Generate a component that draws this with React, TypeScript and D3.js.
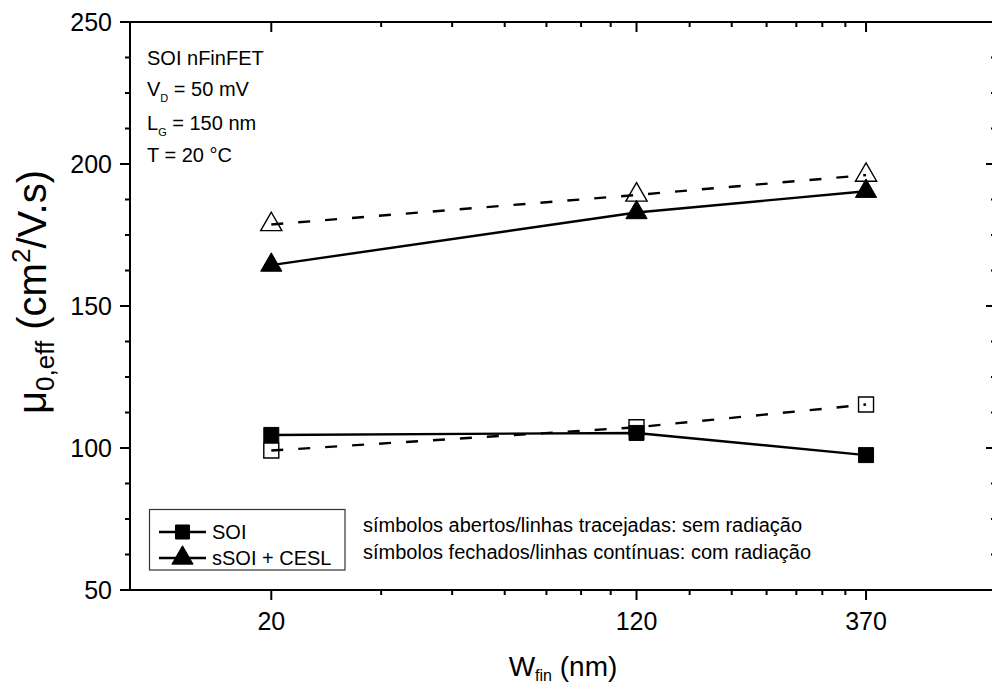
import React from "react";
import * as d3 from "d3";

// ---- data ----
const wfin = [20, 120, 370];
const soiNoRad = [99.1, 107.3, 115.3];
const soiRad = [104.6, 105.3, 97.5];
const ssoiNoRad = [178.7, 189.1, 196.1];
const ssoiRad = [164.4, 182.9, 190.4];

const xMajorTicks = [20, 120, 370];
const yMajorTicks = [50, 100, 150, 200, 250];
const xDomain = [10, 700];
const yDomain = [50, 250];

const legendLabels = ["SOI", "sSOI + CESL"];
const noteLines = [
  "símbolos abertos/linhas tracejadas: sem radiação",
  "símbolos fechados/linhas contínuas: com radiação",
];

const FONT = "'Liberation Sans', Arial, Helvetica, sans-serif";

export default function App() {
  const W = 992, H = 686;
  const left = 130, right = 996, top = 22, bottom = 590;

  const x = d3.scaleLog().domain(xDomain).range([left, right]);
  const y = d3.scaleLinear().domain(yDomain).range([bottom, top]);

  // minor ticks: 6 evenly spaced (in value) between consecutive major ticks
  const xMinor: number[] = [];
  for (let i = 0; i < xMajorTicks.length - 1; i++) {
    const a = xMajorTicks[i], b = xMajorTicks[i + 1];
    for (let k = 1; k < 7; k++) xMinor.push(a + ((b - a) * k) / 7);
  }
  const yMinor: number[] = [];
  for (let v = yDomain[0]; v < yDomain[1]; v += 12.5) {
    if (!yMajorTicks.includes(v)) yMinor.push(v);
  }

  const line = d3
    .line<number>()
    .x((_, i) => x(wfin[i]))
    .y((d) => y(d));

  const tri = d3.symbol().type(d3.symbolTriangle).size(195)() as string;
  const sq = d3.symbol().type(d3.symbolSquare).size(225)() as string;
  const triL = d3.symbol().type(d3.symbolTriangle).size(195)() as string;
  const sqL = d3.symbol().type(d3.symbolSquare).size(196)() as string;

  const dash = "12,15";

  return (
    <svg
      width={W}
      height={H}
      style={{ position: "absolute", left: 0, top: 0, background: "#fff" }}
      fontFamily={FONT}
    >
      <rect x={0} y={0} width={W} height={H} fill="#fff" />

      {/* series lines */}
      <path d={line(soiNoRad) || ""} fill="none" stroke="#000" strokeWidth={2.4} strokeDasharray={dash} />
      <path d={line(ssoiNoRad) || ""} fill="none" stroke="#000" strokeWidth={2.4} strokeDasharray={dash} />
      <path d={line(soiRad) || ""} fill="none" stroke="#000" strokeWidth={2.4} />
      <path d={line(ssoiRad) || ""} fill="none" stroke="#000" strokeWidth={2.4} />

      {/* open markers */}
      {soiNoRad.map((v, i) => (
        <path key={"so" + i} d={sq} transform={`translate(${x(wfin[i])},${y(v)})`} fill="none" stroke="#000" strokeWidth={1.4} />
      ))}
      {ssoiNoRad.map((v, i) => (
        <path key={"to" + i} d={tri} transform={`translate(${x(wfin[i])},${y(v)})`} fill="none" stroke="#000" strokeWidth={1.4} />
      ))}
      {/* filled markers */}
      {soiRad.map((v, i) => (
        <path key={"sf" + i} d={sq} transform={`translate(${x(wfin[i])},${y(v)})`} fill="#000" stroke="#000" strokeWidth={1} />
      ))}
      {ssoiRad.map((v, i) => (
        <path key={"tf" + i} d={tri} transform={`translate(${x(wfin[i])},${y(v)})`} fill="#000" stroke="#000" strokeWidth={1} />
      ))}

      {/* axes frame */}
      <line x1={left} x2={left} y1={top - 1} y2={bottom + 1} stroke="#000" strokeWidth={2} />
      <line x1={right} x2={right} y1={top - 1} y2={bottom + 1} stroke="#000" strokeWidth={2} />
      <line x1={left - 1} x2={right + 1} y1={top} y2={top} stroke="#000" strokeWidth={2} />
      <line x1={left - 1} x2={right + 1} y1={bottom} y2={bottom} stroke="#000" strokeWidth={2} />

      {/* y ticks */}
      {yMajorTicks.map((v) => (
        <g key={"ym" + v}>
          <line x1={left - 10} x2={left} y1={y(v)} y2={y(v)} stroke="#000" strokeWidth={2} />
          <line x1={right - 10} x2={right} y1={y(v)} y2={y(v)} stroke="#000" strokeWidth={2} />
          <text x={112} y={y(v)} dy="0.35em" textAnchor="end" fontSize={25}>
            {v}
          </text>
        </g>
      ))}
      {yMinor.map((v) => (
        <g key={"yn" + v}>
          <line x1={left - 5} x2={left} y1={y(v)} y2={y(v)} stroke="#000" strokeWidth={2} />
          <line x1={right - 5} x2={right} y1={y(v)} y2={y(v)} stroke="#000" strokeWidth={2} />
        </g>
      ))}

      {/* x ticks */}
      {xMajorTicks.map((v) => (
        <g key={"xm" + v}>
          <line x1={x(v)} x2={x(v)} y1={bottom} y2={bottom + 10} stroke="#000" strokeWidth={2} />
          <line x1={x(v)} x2={x(v)} y1={top} y2={top + 10} stroke="#000" strokeWidth={2} />
          <text x={x(v)} y={630} textAnchor="middle" fontSize={25}>
            {v}
          </text>
        </g>
      ))}
      {xMinor.map((v, i) => (
        <g key={"xn" + i}>
          <line x1={x(v)} x2={x(v)} y1={bottom} y2={bottom + 5} stroke="#000" strokeWidth={2} />
          <line x1={x(v)} x2={x(v)} y1={top} y2={top + 5} stroke="#000" strokeWidth={2} />
        </g>
      ))}

      {/* axis titles */}
      <text x={563} y={676} textAnchor="middle" fontSize={28}>
        W<tspan fontSize={16} dy={5}>fin</tspan>
        <tspan dy={-5}> (nm)</tspan>
      </text>
      <text transform="translate(46,292) rotate(-90)" textAnchor="middle" fontSize={40}>
        μ<tspan fontSize={26} dy={8}>0,eff</tspan>
        <tspan dy={-8}> (cm</tspan>
        <tspan fontSize={26} dy={-16}>2</tspan>
        <tspan dy={16}>/V.s)</tspan>
      </text>

      {/* annotation */}
      <g fontSize={20}>
        <text x={147} y={65}>SOI nFinFET</text>
        <text x={147} y={96}>
          V<tspan fontSize={11} dy={6}>D</tspan>
          <tspan dy={-6}> = 50 mV</tspan>
        </text>
        <text x={147} y={130}>
          L<tspan fontSize={11} dy={6}>G</tspan>
          <tspan dy={-6}> = 150 nm</tspan>
        </text>
        <text x={147} y={162}>T = 20 °C</text>
      </g>

      {/* legend */}
      <rect x={149.5} y={509.5} width={195.5} height={60.5} fill="#fff" stroke="#333" strokeWidth={1.2} />
      {legendLabels.map((lab, i) => {
        const ly = i === 0 ? 532 : 558;
        return (
          <g key={lab}>
            <line x1={159} x2={206} y1={ly} y2={ly} stroke="#000" strokeWidth={2.4} />
            <path d={i === 0 ? sqL : triL} transform={`translate(182.5,${ly})`} fill="#000" stroke="#000" strokeWidth={1} />
            <text x={212} y={ly + 7} fontSize={20}>
              {lab}
            </text>
          </g>
        );
      })}

      {/* note */}
      {noteLines.map((t, i) => (
        <text key={i} x={363} y={532 + i * 27} fontSize={20}>
          {t}
        </text>
      ))}
    </svg>
  );
}
